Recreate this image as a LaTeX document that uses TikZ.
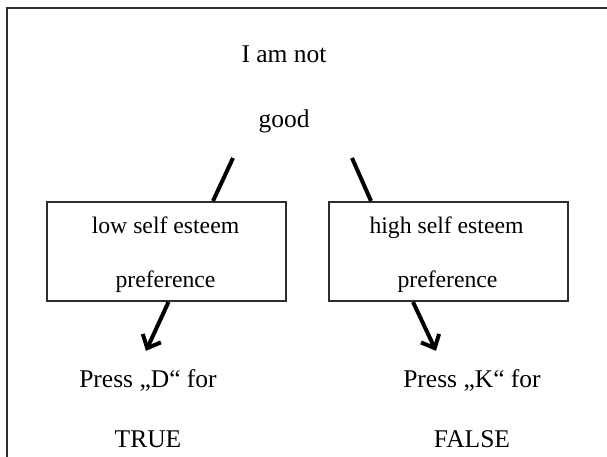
\documentclass[tikz,border=0pt]{standalone}
\usepackage{fontspec}
\setmainfont{Liberation Serif}
\usetikzlibrary{
    positioning,
    arrows.meta,
    calc
}
\definecolor{frameGray}{RGB}{45, 45, 45}

\begin{document}
\begin{tikzpicture}[x=1pt, y=1pt,
    txt/.style={font=\fontsize{25.5}{30}\selectfont, inner sep=0pt, anchor=base},
    boxtxt/.style={font=\fontsize{23.7}{28}\selectfont, inner sep=0pt, anchor=base},
    choice/.style={draw=frameGray, line width=2pt, minimum width=239pt, minimum height=99pt, inner sep=0pt},
    link/.style={line width=4pt},
    arr/.style={line width=4pt, -{Straight Barb[length=11pt, width=20pt]}}]
        % 枠
        \useasboundingbox (0,0) rectangle (607,456);
        \clip (0,0) rectangle (607,456);
        \draw[frameGray, line width=2pt] (7,-20) -- (7,448) -- (630,448);
        
        % 文
        \node[txt] (q1) at (284,393) {I am not};
        \node[txt] (q2) at (284,328) {good};
        \coordinate (qL) at ($(q2.base)+(-51,-30)$);
        \coordinate (qR) at ($(q2.base)+(68,-30)$);
        
        % 選択肢
        \node[choice] (lowbox) at (166.5,204.5) {};
        \node[choice] (highbox) at (448.5,204.5) {};
        \node[boxtxt] (lowA) at ($(lowbox.center)+(-1,18.5)$) {low self esteem};
        \node[boxtxt] (lowB) at ($(lowbox.center)+(-1,-35.5)$) {preference};
        \node[boxtxt] (highA) at ($(highbox.center)+(-2,18.5)$) {high self esteem};
        \node[boxtxt] (highB) at ($(highbox.center)+(-1,-35.5)$) {preference};
        \draw[link] (qL) -- ($(lowbox.north)+(46.5,0)$);
        \draw[link] (qR) -- ($(highbox.north)+(-77.5,0)$);
        
        % キー
        \node[txt] (pressD) at (148,69) {Press „D“ for};
        \node[txt] (valT) at (148,9) {TRUE};
        \node[txt] (pressK) at (472,69) {Press „K“ for};
        \node[txt] (valF) at (472,9) {FALSE};
        \draw[arr] ($(lowbox.south)+(2,0)$) -- ($(pressD.north)+(-2,18)$);
        \draw[arr] ($(highbox.south)+(-35.5,0)$) -- ($(pressK.north)+(-36,18)$);
    \end{tikzpicture}
\end{document}
